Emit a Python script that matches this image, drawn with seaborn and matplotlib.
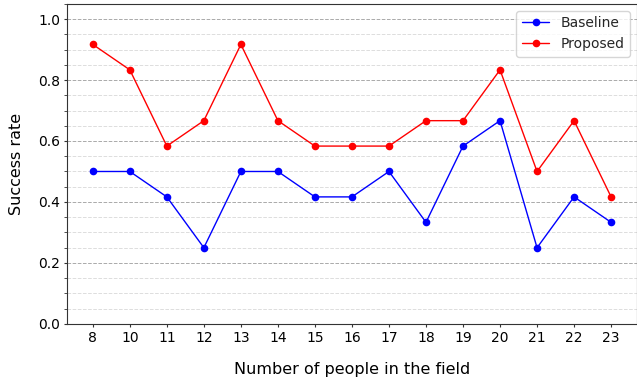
import pandas as pd
import seaborn as sns
import matplotlib.pyplot as plt
from matplotlib.ticker import MultipleLocator

people = ['8', '10', '11', '12', '13', '14', '15', '16', '17', '18', '19', '20', '21', '22', '23']
baseline = [6/12, 6/12, 5/12, 3/12, 6/12, 6/12, 5/12, 5/12, 6/12, 4/12, 7/12, 8/12, 3/12, 5/12, 4/12]
proposed = [11/12, 10/12, 7/12, 8/12, 11/12, 8/12, 7/12, 7/12, 7/12, 8/12, 8/12, 10/12, 6/12, 8/12, 5/12]

df = pd.DataFrame({
    'people': people * 2,
    'rate': baseline + proposed,
    'method': ['Baseline'] * len(people) + ['Proposed'] * len(people),
})

sns.set_style('ticks')
plt.rcParams['font.family'] = ['DejaVu Sans']

fig, ax = plt.subplots(figsize=(6.37, 3.78), dpi=100)
sns.lineplot(data=df, x='people', y='rate', hue='method',
             palette={'Baseline': 'blue', 'Proposed': 'red'},
             marker='o', markersize=5.5, markeredgewidth=0, linewidth=1, ax=ax, sort=False)

ax.set_ylim(0, 1.05)
ax.set_xlim(-0.7, len(people) - 0.3)
ax.yaxis.set_major_locator(MultipleLocator(0.2))
ax.yaxis.set_minor_locator(MultipleLocator(0.05))
ax.grid(axis='y', which='major', linestyle='--', color='#aaaaaa', linewidth=0.7)
ax.grid(axis='y', which='minor', linestyle='--', color='#dddddd', linewidth=0.7)
ax.set_axisbelow(True)
for s in ax.spines.values():
    s.set_color('#333333')
ax.tick_params(axis='both', which='major', labelsize=10, length=2.5, pad=2.5,
               color='#333333', labelcolor='black')
ax.tick_params(axis='y', which='minor', length=2, color='#333333')
ax.set_xlabel('Number of people in the field', fontsize=11.5, labelpad=12, color='black')
ax.set_ylabel('Success rate', fontsize=11.5, labelpad=10, color='black')
ax.legend(title=None, loc='upper right', fontsize=10)

fig.subplots_adjust(left=0.105, right=1.0, top=0.99, bottom=0.143)
fig.savefig('out.png', dpi=100)
